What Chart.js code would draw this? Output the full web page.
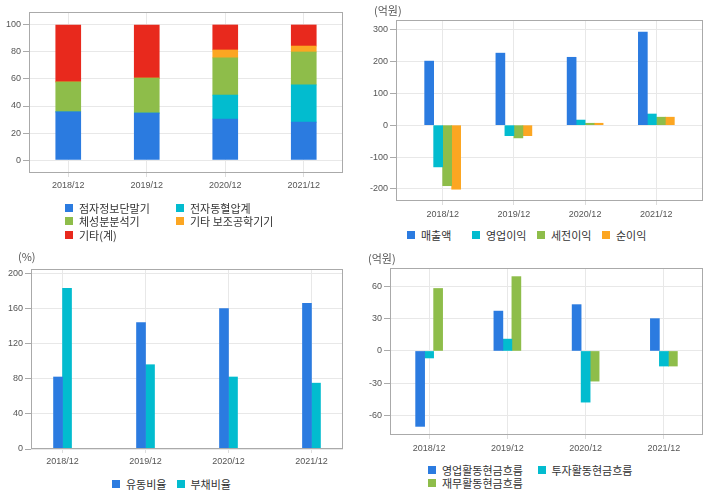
<!DOCTYPE html>
<html>
<head>
<meta charset="utf-8">
<script src="https://cdn.jsdelivr.net/npm/chart.js@4.4.0/dist/chart.umd.min.js"></script>
<style>
  body { margin: 0; background: #fff; width: 720px; height: 496px; position: relative; overflow: hidden; }
  canvas { position: absolute; }
  .unit { position: absolute; font: 11px "Noto Sans CJK KR", sans-serif; color: #555; line-height: 13px; }
  .legend { position: absolute; display: grid; font: 11px "Noto Sans CJK KR", sans-serif; color: #333; }
  .legend div { display: flex; align-items: center; white-space: nowrap; }
  .legend span { display: inline-block; width: 8px; height: 8px; margin-right: 6px; }
</style>
</head>
<body>
<canvas id="c1" width="360" height="200" style="left:0;top:0"></canvas>
<canvas id="c2" width="360" height="225" style="left:360px;top:0"></canvas>
<canvas id="c3" width="360" height="222" style="left:0;top:250px"></canvas>
<canvas id="c4" width="360" height="210" style="left:360px;top:250px"></canvas>
<div class="unit" style="left:374px;top:4px">(억원)</div>
<div class="unit" style="left:18px;top:250px">(%)</div>
<div class="unit" style="left:368px;top:252px">(억원)</div>
<div class="legend" id="lg1" style="left:65px;top:201px"></div>
<div class="legend" id="lg2" style="left:407px;top:228px"></div>
<div class="legend" id="lg3" style="left:112px;top:477px"></div>
<div class="legend" id="lg4" style="left:428px;top:463px"></div>
<script>
// 공통 카테고리
const years = ['2018/12', '2019/12', '2020/12', '2021/12'];

// 제품별 매출 구성 (%)
const prodNames = ['점자정보단말기', '전자동혈압계', '체성분분석기', '기타 보조공학기기', '기타(계)'];
const braille = [35.6, 34.8, 30.4, 28.1];
const bpMonitor = [0, 0, 17.7, 27.5];
const bodyComp = [22.2, 25.9, 27.5, 24.4];
const otherAid = [0, 0, 5.9, 4.4];
const otherTotal = [42.2, 39.3, 18.5, 15.6];
const ticks1 = [0, 20, 40, 60, 80, 100];

// 손익 (억원)
const plNames = ['매출액', '영업이익', '세전이익', '순이익'];
const sales = [201, 226, 213, 292];
const opProfit = [-131, -33, 16, 35];
const preTax = [-190, -40, 6, 25];
const netProfit = [-201, -33, 6, 25];
const ticks2 = [-200, -100, 0, 100, 200, 300];

// 안정성 (%)
const ratioNames = ['유동비율', '부채비율'];
const currentRatio = [82, 144, 160, 166];
const debtRatio = [183, 96, 82, 75];
const ticks3 = [0, 40, 80, 120, 160, 200];

// 현금흐름 (억원)
const cfNames = ['영업활동현금흐름', '투자활동현금흐름', '재무활동현금흐름'];
const opCF = [-70, 37, 43, 30];
const invCF = [-6.5, 11, -47.5, -14];
const finCF = [58, 69, -28, -14];
const ticks4 = [-60, -30, 0, 30, 60];

const BLUE = '#2b7be0', CYAN = '#02bccf', GREEN = '#8ebd4a', ORANGE = '#fca622', RED = '#e8291d';

Chart.defaults.font.family = '"Liberation Sans", Arial, sans-serif';
Chart.defaults.font.size = 9;
Chart.defaults.color = '#555';

// 플롯 영역 테두리
const boxPlugin = {
    id: 'box',
    afterDraw(chart) {
        const a = chart.chartArea, ctx = chart.ctx;
        ctx.save();
        ctx.strokeStyle = '#aaa';
        ctx.lineWidth = 1;
        ctx.strokeRect(Math.round(a.left) + 0.5, Math.round(a.top) + 0.5,
            Math.round(a.right - a.left) - 1, Math.round(a.bottom - a.top) - 1);
        ctx.restore();
    }
};

function makeChart(id, datasets, opt) {
    const xScale = {
        stacked: !!opt.stacked,
        grid: { offset: false, color: '#e8e8e8', tickColor: '#ddd', tickLength: 4 },
        border: { display: false },
        ticks: { padding: opt.xPad, color: '#555' },
        afterFit: s => { s.height = opt.xHeight; }
    };
    if (opt.edge) {
        // 첫/마지막 카테고리와 테두리 사이 간격 조정
        xScale.afterBuildTicks = s => {
            s._startValue = -opt.edge;
            s._valueRange = years.length - 1 + 2 * opt.edge;
        };
    }
    return new Chart(document.getElementById(id), {
        type: 'bar',
        data: { labels: years, datasets: datasets },
        options: {
            responsive: false,
            animation: false,
            devicePixelRatio: 1,
            layout: { padding: { top: opt.top, right: opt.right, left: 0, bottom: 0 } },
            plugins: { legend: { display: false }, tooltip: { enabled: false } },
            datasets: { bar: { barThickness: opt.bar } },
            scales: {
                x: xScale,
                y: {
                    stacked: !!opt.stacked,
                    min: opt.min, max: opt.max, bounds: 'data',
                    grid: { color: '#e8e8e8', tickColor: '#aaa', tickLength: 6 },
                    border: { display: false },
                    ticks: { padding: 2, color: '#555' },
                    afterBuildTicks: s => { s.ticks = opt.ticks.map(v => ({ value: v })); },
                    afterFit: s => { s.width = opt.yWidth; }
                }
            }
        },
        plugins: [boxPlugin]
    });
}

function buildLegend(id, names, colors, cols, colWidth, rowHeight) {
    const el = document.getElementById(id);
    el.style.gridTemplateColumns = 'repeat(' + cols + ', ' + colWidth + 'px)';
    el.style.gridAutoRows = rowHeight + 'px';
    names.forEach((n, i) => {
        const d = document.createElement('div');
        d.innerHTML = '<span style="background:' + colors[i] + '"></span>' + n;
        el.appendChild(d);
    });
}

makeChart('c1', [
    { label: prodNames[0], data: braille, backgroundColor: BLUE },
    { label: prodNames[1], data: bpMonitor, backgroundColor: CYAN },
    { label: prodNames[2], data: bodyComp, backgroundColor: GREEN },
    { label: prodNames[3], data: otherAid, backgroundColor: ORANGE },
    { label: prodNames[4], data: otherTotal, backgroundColor: RED }
], { stacked: true, top: 12, right: 17, yWidth: 29, xHeight: 27, xPad: 3, bar: 25,
     min: -9.6, max: 109.6, ticks: ticks1 });

makeChart('c2', [
    { label: plNames[0], data: sales, backgroundColor: BLUE },
    { label: plNames[1], data: opProfit, backgroundColor: CYAN },
    { label: plNames[2], data: preTax, backgroundColor: GREEN },
    { label: plNames[3], data: netProfit, backgroundColor: ORANGE }
], { top: 20, right: 17, yWidth: 36, xHeight: 24, xPad: 4, bar: 9, edge: 0.655,
     min: -238, max: 330, ticks: ticks2 });

makeChart('c3', [
    { label: ratioNames[0], data: currentRatio, backgroundColor: BLUE },
    { label: ratioNames[1], data: debtRatio, backgroundColor: CYAN }
], { top: 19, right: 17, yWidth: 31, xHeight: 23, xPad: 3, bar: 9, edge: 0.38,
     min: 0, max: 205, ticks: ticks3 });

makeChart('c4', [
    { label: cfNames[0], data: opCF, backgroundColor: BLUE },
    { label: cfNames[1], data: invCF, backgroundColor: CYAN },
    { label: cfNames[2], data: finCF, backgroundColor: GREEN }
], { top: 18, right: 17, yWidth: 30, xHeight: 25, xPad: 4, bar: 9,
     min: -78, max: 77, ticks: ticks4 });

buildLegend('lg1', prodNames, [BLUE, CYAN, GREEN, ORANGE, RED], 2, 111, 13.5);
buildLegend('lg2', plNames, [BLUE, CYAN, GREEN, ORANGE], 4, 65, 13.5);
buildLegend('lg3', ratioNames, [BLUE, CYAN], 2, 64.5, 13.5);
buildLegend('lg4', cfNames, [BLUE, CYAN, GREEN], 2, 109.5, 13);
</script>
</body>
</html>
